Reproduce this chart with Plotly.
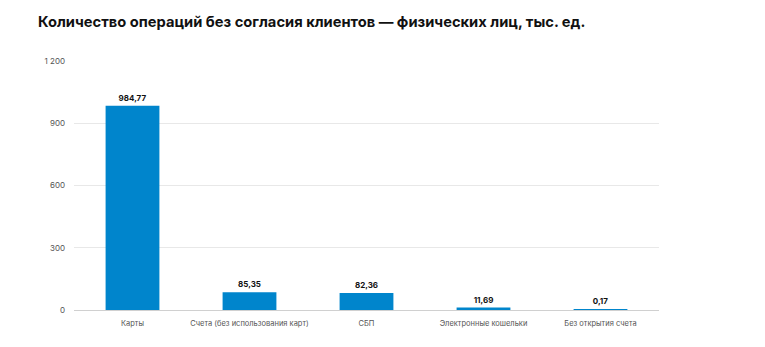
import plotly.graph_objects as go

categories = ["Карты", "Счета (без использования карт)", "СБП", "Электронные кошельки", "Без открытия счета"]
values = [984.77, 85.35, 82.36, 11.69, 0.17]
value_labels = ["984,77", "85,35", "82,36", "11,69", "0,17"]
tick_vals = [0, 300, 600, 900, 1200]
tick_text = ["0", "300", "600", "900", "1 200"]

fig = go.Figure(go.Bar(
    x=categories, y=values,
    marker=dict(color="#0085CC", line=dict(width=0)),
    text=value_labels, textposition="outside",
    textfont=dict(family="Inter, Roboto, sans-serif", size=8, color="#111111"),
    texttemplate="<b>%{text}</b>",
    cliponaxis=False,
))

fig.update_layout(
    width=765, height=347,
    margin=dict(l=74, r=106, t=61, b=37),
    paper_bgcolor="white", plot_bgcolor="white",
    bargap=0.54,
    showlegend=False,
    title=dict(text="<b>Количество операций без согласия клиентов — физических лиц, тыс. ед.</b>",
               x=38/765, xanchor="left", y=1-22/347, yanchor="middle",
               font=dict(family="Inter, Roboto, sans-serif", size=14.7, color="#111111")),
    font=dict(family="Inter, Roboto, sans-serif"),
)
fig.update_xaxes(
    tickfont=dict(size=7.5, color="#555555"),
    showgrid=False, showline=True, linecolor="#d0d0d0", linewidth=1,
    ticks="outside", ticklen=6, tickcolor="rgba(0,0,0,0)",
)
fig.update_yaxes(
    range=[0, 1200], tickvals=tick_vals, ticktext=tick_text,
    tickfont=dict(size=8, color="#555555"),
    showgrid=True, gridcolor="#e8e8e8", gridwidth=1,
    zeroline=False, ticks="", ticklabelstandoff=8,
)

fig.write_html("out.html")
